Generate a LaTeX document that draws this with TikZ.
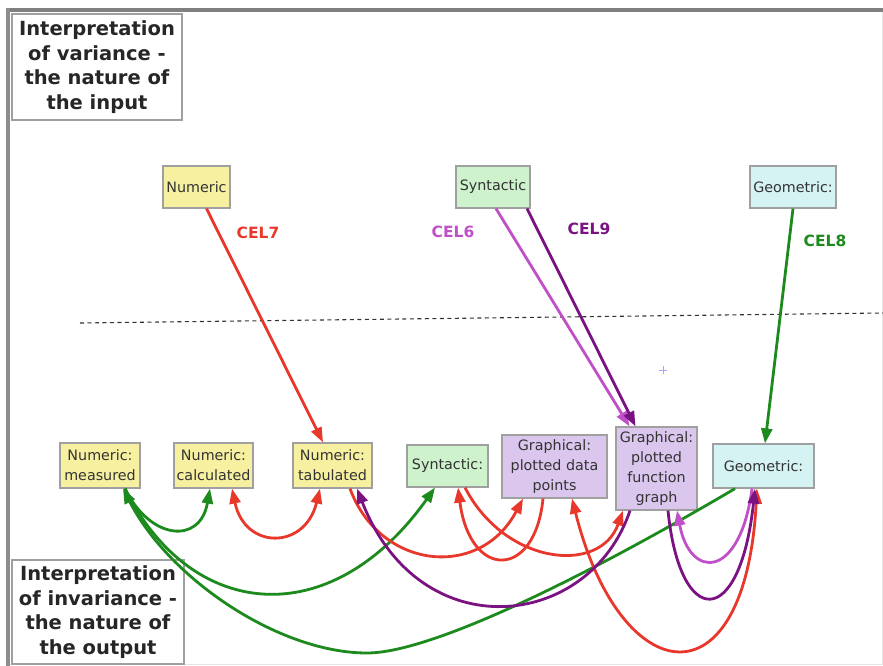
\documentclass[tikz,border=0pt]{standalone}
\usepackage{fontspec}
\setmainfont{DejaVu Sans}
\usetikzlibrary{arrows.meta}

\definecolor{numfill}{HTML}{F6F0A0}
\definecolor{synfill}{HTML}{CDF2CC}
\definecolor{geofill}{HTML}{D6F3F3}
\definecolor{grafill}{HTML}{DBC6EE}
\definecolor{boxline}{HTML}{A0A0A0}
\definecolor{boxtext}{HTML}{333333}
\definecolor{cred}{HTML}{E8372B}
\definecolor{cmag}{HTML}{C050C8}
\definecolor{cpur}{HTML}{7A1282}
\definecolor{cgrn}{HTML}{1C8A1C}
\definecolor{framegray}{HTML}{808080}

\tikzset{
  concept/.style={draw=boxline, line width=1.2pt, inner sep=1.5pt, align=center,
    text=boxtext, font=\fontsize{14.3}{20}\selectfont},
  heading/.style={draw=boxline, line width=1.2pt, fill=white, inner sep=2pt, align=center,
    text=black!85, font=\fontsize{19.5}{24.5}\selectfont\bfseries},
  cel/.style={font=\fontsize{15.5}{17}\selectfont\bfseries},
  tip/.tip={Triangle[length=15pt,width=11pt]},
  link/.style={line width=2.8pt, -tip},
  twoway/.style={line width=2.8pt, tip-tip},
}

\begin{document}
\begin{tikzpicture}[x=1pt,y=-1pt]
\useasboundingbox (0,0) rectangle (883,666);

% window frame
\fill[framegray] (8,8) rectangle (883,12);
\fill[framegray!90] (6,8) rectangle (10,666);
\draw[gray!20, line width=0.8pt] (882,12) -- (882,664) -- (10,664);

% headings
\node[heading, minimum width=170pt, minimum height=106pt] (inhead) at (97,67)
  {Interpretation\\of variance -\\the nature of\\the input};
\node[heading, minimum width=172pt, minimum height=104pt] (outhead) at (98,612)
  {Interpretation\\of invariance -\\the nature of\\the output};

% input concepts
\node[concept, fill=numfill, minimum width=67pt, minimum height=42pt] (num) at (196.5,187) {Numeric};
\node[concept, fill=synfill, minimum width=74pt, minimum height=42pt] (syn) at (493,187) {Syntactic};
\node[concept, fill=geofill, minimum width=86pt, minimum height=42pt] (geo) at (793,187) {Geometric:};

% separator between input and output
\coordinate (sepL) at (80,323);
\coordinate (sepR) at (883,313);
\draw[dashed, dash pattern=on 4pt off 3.5pt, line width=1.1pt, black!80] (sepL) -- (sepR);

% output concepts
\node[concept, fill=numfill, minimum width=80pt, minimum height=45pt] (meas) at (100,465.5) {Numeric:\\measured};
\node[concept, fill=numfill, minimum width=79pt, minimum height=45pt] (calc) at (213.5,465.5) {Numeric:\\calculated};
\node[concept, fill=numfill, minimum width=79pt, minimum height=45pt] (tab) at (332.5,465.5) {Numeric:\\tabulated};
\node[concept, fill=synfill, minimum width=81pt, minimum height=42pt] (syno) at (447.5,466) {Syntactic:};
\node[concept, fill=grafill, minimum width=105pt, minimum height=63pt] (gdp) at (554.5,466.5) {Graphical:\\plotted data\\points};
\node[concept, fill=grafill, minimum width=81pt, minimum height=83pt] (gfg) at (656.5,468.5) {Graphical:\\plotted\\function\\graph};
\node[concept, fill=geofill, minimum width=101pt, minimum height=44pt] (geoo) at (763.5,466) {Geometric:};

% input to output links
\draw[link, cred] ([xshift=10pt]num.south) -- ([xshift=-9.5pt]tab.north);
\draw[link, cmag] ([xshift=3pt]syn.south) -- ([xshift=-27pt]gfg.north);
\draw[link, cpur] ([xshift=34pt]syn.south) -- ([xshift=-21pt]gfg.north);
\draw[link, cgrn] (geo.south) -- ([xshift=1.5pt]geoo.north);

\node[cel, text=cred] (cel7) at (258,233) {CEL7};
\node[cel, text=cmag] (cel6) at (453,232) {CEL6};
\node[cel, text=cpur] (cel9) at (589,229) {CEL9};
\node[cel, text=cgrn] (cel8) at (825,241) {CEL8};

% green links among outputs
\draw[link, cgrn] ([xshift=25pt]meas.south) .. controls (150,540) and (200,545) .. ([xshift=-3.5pt]calc.south);
\draw[link, cgrn] ([xshift=25pt]meas.south) .. controls (190,620) and (330,635) .. ([xshift=-12.5pt]syno.south);
\coordinate (gbottom) at (367,653);
\draw[link, cgrn] ([xshift=-28.5pt]geoo.south) .. controls (580,580) and (430,653) .. (gbottom)
  .. controls (280,653) and (170,580) .. ([xshift=23pt]meas.south);

% red links among outputs
\draw[twoway, cred] ([xshift=18.5pt]calc.south) .. controls (245,550) and (305,550) .. ([xshift=-12.5pt]tab.south);
\draw[link, cred] ([xshift=17.5pt]tab.south) .. controls (380,570) and (480,580) .. ([xshift=-31.5pt]gdp.south);
\draw[link, cred] ([xshift=-11.5pt]gdp.south) .. controls (535,580) and (470,580) .. ([xshift=10.5pt]syno.south);
\draw[link, cred] ([xshift=17.5pt]syno.south) .. controls (505,565) and (600,575) .. ([xshift=-33.5pt]gfg.south);
\draw[twoway, cred] ([xshift=17.5pt]gdp.south) .. controls (620,690) and (745,710) .. ([xshift=-6.5pt]geoo.south);

% purple and magenta links among outputs
\draw[link, cpur] ([xshift=-26.5pt]gfg.south) .. controls (590,630) and (420,650) .. ([xshift=24.5pt]tab.south);
\draw[link, cmag] ([xshift=-11.5pt]geoo.south) .. controls (740,580) and (690,580) .. ([xshift=20.5pt]gfg.south);
\draw[link, cpur] ([xshift=11.5pt]gfg.south) .. controls (680,630) and (740,630) .. ([xshift=-8.5pt]geoo.south);

% small cursor mark
\coordinate (mark) at (663,370);
\draw[line width=1pt, blue!35!white] ([xshift=-4pt]mark) -- ([xshift=4pt]mark)
  ([yshift=-4pt]mark) -- ([yshift=4pt]mark);
\end{tikzpicture}
\end{document}
